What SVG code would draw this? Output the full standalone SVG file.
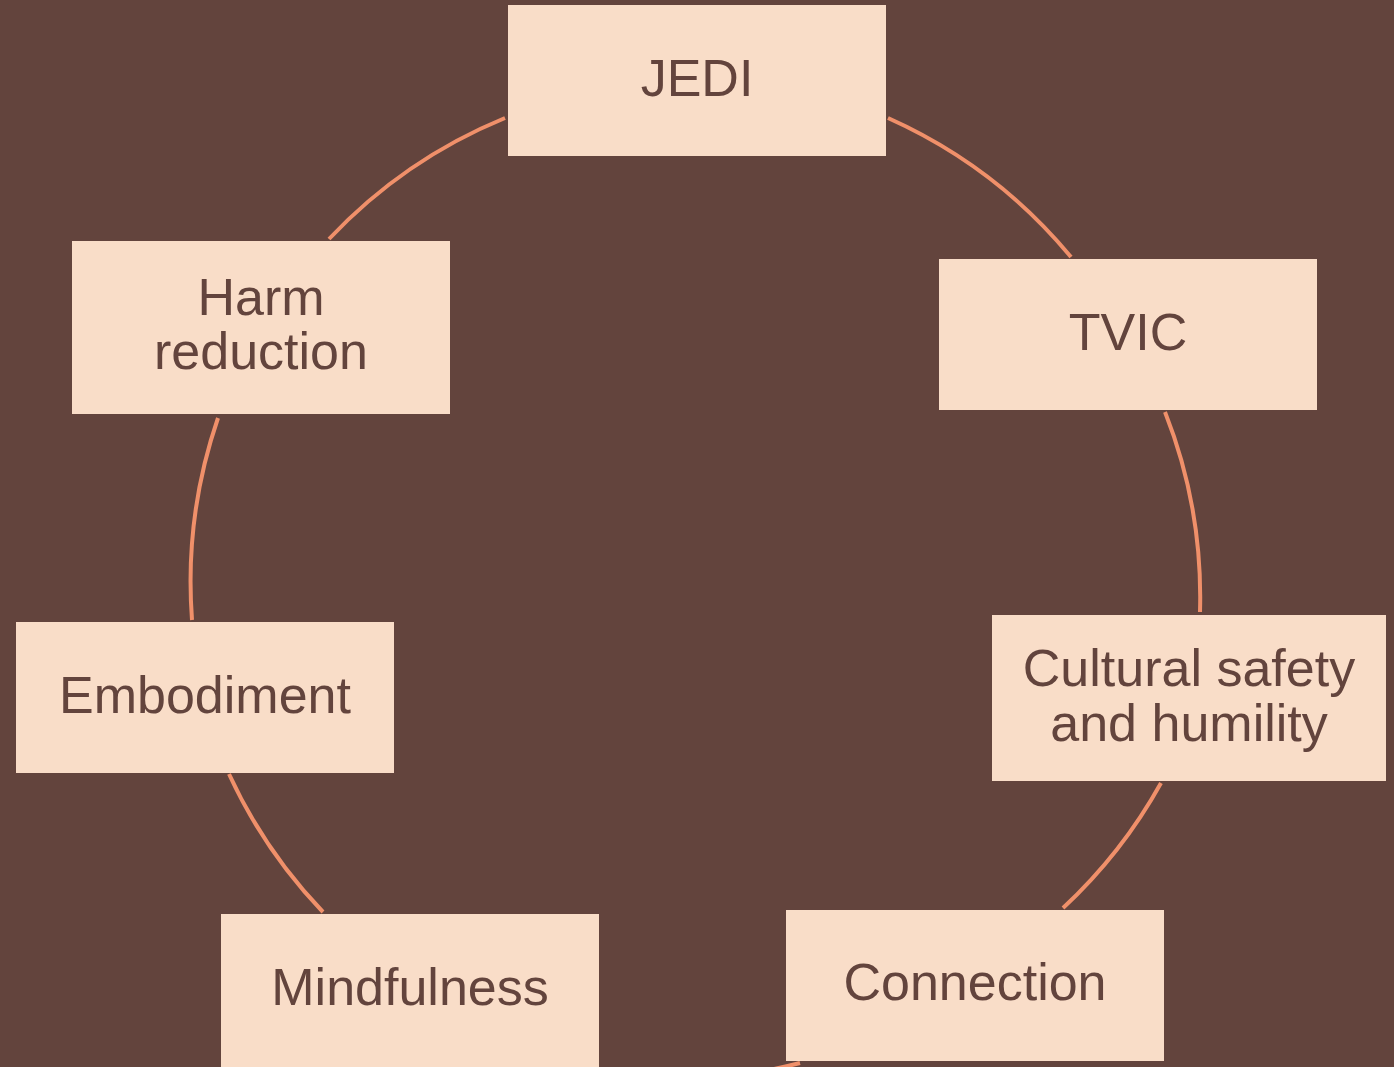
<svg xmlns="http://www.w3.org/2000/svg" width="1394" height="1067" viewBox="0 0 1394 1067">
<style>
.bg{fill:#63443D}
.box{fill:#F9DDC8}
.lbl{font-family:"Liberation Sans",Arial,sans-serif;font-size:52px;fill:#63443D;text-anchor:middle}
.arc{fill:none;stroke:#F0906A;stroke-width:4}
</style>
<rect class="bg" x="0" y="0" width="1394" height="1067"/>
<g id="connectors">
<path class="arc" d="M888 118 A505 505 0 0 1 1071 257"/>
<path class="arc" d="M1165 412 A505 505 0 0 1 1200 612"/>
<path class="arc" d="M1161 783 A505 505 0 0 1 1063 908"/>
<path class="arc" d="M800 1063 A505 505 0 0 1 574 1069"/>
<path class="arc" d="M323 912 A505 505 0 0 1 229 774"/>
<path class="arc" d="M192 620 A505 505 0 0 1 218 418"/>
<path class="arc" d="M329 239 A505 505 0 0 1 505 118"/>
</g>
<g id="jedi"><rect class="box" x="508" y="5" width="378" height="151"/><text class="lbl" x="697" y="96">JEDI</text></g>
<g id="tvic"><rect class="box" x="939" y="259" width="378" height="151"/><text class="lbl" x="1128" y="350">TVIC</text></g>
<g id="cultural"><rect class="box" x="992" y="615" width="394" height="166"/><text class="lbl" x="1189" y="686">Cultural safety</text><text class="lbl" x="1189" y="741">and humility</text></g>
<g id="connection"><rect class="box" x="786" y="910" width="378" height="151"/><text class="lbl" x="975" y="1000">Connection</text></g>
<g id="mindfulness"><rect class="box" x="221" y="914" width="378" height="153"/><text class="lbl" x="410" y="1005">Mindfulness</text></g>
<g id="embodiment"><rect class="box" x="16" y="622" width="378" height="151"/><text class="lbl" x="205" y="713">Embodiment</text></g>
<g id="harm"><rect class="box" x="72" y="241" width="378" height="173"/><text class="lbl" x="261" y="315">Harm</text><text class="lbl" x="261" y="369">reduction</text></g>
</svg>
